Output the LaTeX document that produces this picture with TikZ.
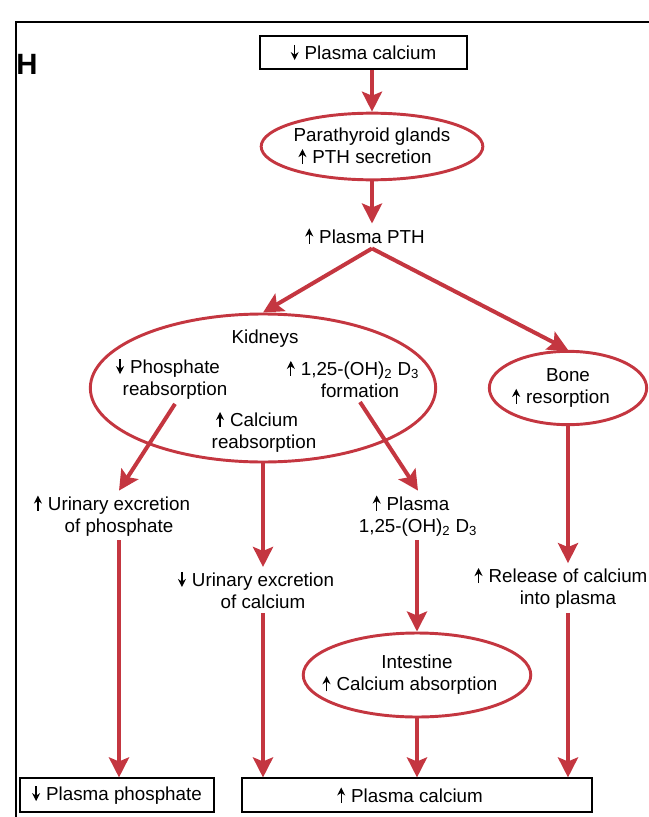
\documentclass[tikz,border=0pt]{standalone}
\usepackage{fontspec}
\setmainfont{Liberation Sans}
\usetikzlibrary{arrows.meta, shapes.geometric}
\definecolor{flowred}{RGB}{196,54,64}
\newcommand{\uparr}{\tikz[baseline=0pt]\draw[black, line width=1pt, -{Stealth[length=6pt, width=6pt]}] (0pt,-0.3pt) -- (0pt,11pt);}
\newcommand{\downarr}{\tikz[baseline=0pt]\draw[black, line width=1pt, -{Stealth[length=6pt, width=6pt]}] (0pt,11pt) -- (0pt,-0.3pt);}
\newcommand{\incr}{\llap{\uparr\hspace{4.5pt}}}
\newcommand{\decr}{\llap{\downarr\hspace{4.5pt}}}

\begin{document}
\begin{tikzpicture}[
  x=0.75pt, y=-0.75pt,
  every node/.style={font=\fontsize{14.1}{16.5}\selectfont, align=center},
  box/.style={draw, line width=1.3pt, minimum height=25pt, inner sep=0pt},
  oval/.style={ellipse, draw=flowred, line width=2.2pt, inner sep=0pt},
  txt/.style={inner sep=3pt},
  arrow/.style={-{Stealth[length=15pt, width=15pt, inset=3pt]}, line width=3pt, flowred}
]
  \useasboundingbox (0,0) rectangle (649,817);
  \draw[line width=1.6pt] (16,830) -- (16,22) -- (660,22);
  \node[font=\fontsize{22}{22}\selectfont\bfseries] (panel) at (27,64) {H};

  \node[box, minimum width=155pt] (top) at (363.5,52.5) {\downarr\hspace{4.5pt}Plasma calcium};
  \node[oval, minimum width=161pt, minimum height=50pt] (para) at (372,146.5) {Parathyroid glands\\\incr PTH secretion};
  \node[txt] (pth) at (372,236) {\incr Plasma PTH};

  \node[oval, minimum width=259pt, minimum height=111pt] (kid) at (263,388) {};
  \node[txt] (kidname) at (265,339) {Kidneys};
  \node[txt] (phos) at (175,379) {\decr Phosphate\\reabsorption};
  \node[txt] (form) at (360,379) {\incr 1,25-(OH)\textsubscript{2} D\textsubscript{3}\\formation};
  \node[txt] (creab) at (264,432) {\incr Calcium\\reabsorption};
  \node[oval, minimum width=118pt, minimum height=55pt] (bone) at (568,388) {Bone\\\incr resorption};

  \node[txt] (uphos) at (119,515.5) {\incr Urinary excretion\\of phosphate};
  \node[txt] (ucal) at (263,590) {\decr Urinary excretion\\of calcium};
  \node[txt] (pd3) at (418,515.5) {\incr Plasma\\1,25-(OH)\textsubscript{2} D\textsubscript{3}};
  \node[txt] (rel) at (568,588) {\incr Release of calcium\\into plasma};
  \node[oval, minimum width=167pt, minimum height=63pt] (gut) at (417,675) {Intestine\\\incr Calcium absorption};

  \node[box, minimum width=145.5pt] (phbox) at (117,795) {\downarr\hspace{4.5pt}Plasma phosphate};
  \node[box, minimum width=262.5pt] (cabox) at (417,795) {\incr Plasma calcium};

  \draw[arrow] (para.north |- top.south) -- (para.north);
  \draw[arrow] (para.south) -- (para.south |- pth.north);
  \draw[arrow] (pth.south) -- (kid.north);
  \draw[arrow] (pth.south) -- (bone.north);
  \draw[arrow] (phos.south) -- (uphos.north);
  \draw[arrow] (form.south) -- (pd3.north);
  \draw[arrow] (kid.south) -- (kid.south |- ucal.north);
  \draw[arrow] (bone.south) -- (bone.south |- rel.north);
  \draw[arrow] (uphos.south) -- (uphos.south |- phbox.north);
  \draw[arrow] (ucal.south) -- (ucal.south |- cabox.north);
  \draw[arrow] (gut.north |- pd3.south) -- (gut.north);
  \draw[arrow] (gut.south) -- (gut.south |- cabox.north);
  \draw[arrow] (rel.south) -- (rel.south |- cabox.north);
\end{tikzpicture}
\end{document}
